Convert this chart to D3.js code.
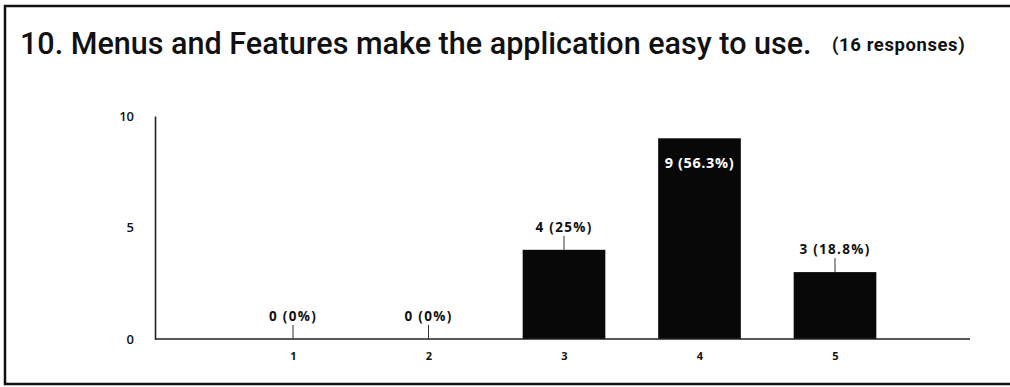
<!DOCTYPE html>
<html>
<head>
<meta charset="utf-8">
<script src="https://cdn.jsdelivr.net/npm/d3@7"></script>
<style>
  html, body { margin: 0; padding: 0; background: #fff; }
  svg { display: block; }
</style>
</head>
<body>
<svg id="chart" width="1010" height="387"></svg>
<script>
// Responses per rating (1 = lowest, 5 = highest)
const categories = ["1", "2", "3", "4", "5"];
const counts = [0, 0, 4, 9, 3];
const percents = ["0%", "0%", "25%", "56.3%", "18.8%"];
const yTicks = [0, 5, 10];
const totalResponses = 16;

const svg = d3.select("#chart");

// Card frame: left, top and bottom edges
svg.append("path")
  .attr("d", `M1010,6 H5 V384 H1010`)
  .attr("fill", "none")
  .attr("stroke", "#111")
  .attr("stroke-width", 2.5);

// Fit a text element to a given width by adjusting its font size
function fitWidth(sel, size, width) {
  const w = sel.node().getComputedTextLength();
  sel.attr("font-size", size * width / w);
}

// Title
const title = svg.append("text")
  .attr("x", 20).attr("y", 54)
  .attr("font-family", "Roboto, 'Liberation Sans', sans-serif")
  .attr("font-weight", 500)
  .attr("font-size", 23)
  .attr("fill", "#111")
  .text("10. Menus and Features make the application easy to use.");
fitWidth(title, 23, 792);

const sub = svg.append("text")
  .attr("x", 832).attr("y", 51)
  .attr("font-family", "Roboto, 'Liberation Sans', sans-serif")
  .attr("font-weight", 700)
  .attr("font-size", 14)
  .attr("letter-spacing", 0.6)
  .attr("fill", "#111")
  .text(`(${totalResponses} responses)`);
fitWidth(sub, 14, 136);

// Scales
const x = d3.scalePoint().domain(categories).range([293, 835]);
const barW = x.step() * 0.61;
const y = d3.scaleLinear().domain([0, 10]).range([339, 116]);
const axisLeft = 155, axisRight = 970;

const font = "'Open Sans', 'DejaVu Sans', sans-serif";

// Bars
const data = categories.map((c, i) => ({ c, v: counts[i], p: percents[i] }));
svg.append("g").selectAll("rect")
  .data(data.filter(d => d.v > 0))
  .join("rect")
  .attr("x", d => x(d.c) - barW / 2)
  .attr("y", d => y(d.v))
  .attr("width", barW)
  .attr("height", d => y(0) - y(d.v))
  .attr("fill", "#080808");

// Y axis
const yAxis = d3.axisLeft(y).tickValues(yTicks).tickSize(0).tickPadding(21);
const gy = svg.append("g").attr("transform", `translate(${axisLeft},0)`).call(yAxis);
gy.select(".domain").attr("stroke", "#222").attr("stroke-width", 1.6);
gy.selectAll("text")
  .attr("font-family", font).attr("font-size", 13).attr("font-weight", 600).attr("fill", "#111");

// X axis
const xAxis = d3.axisBottom(x).tickSize(0).tickPadding(13);
const gx = svg.append("g").attr("transform", `translate(0,${y(0)})`).call(xAxis);
gx.select(".domain").attr("d", `M${axisLeft},0H${axisRight}`)
  .attr("stroke", "#222").attr("stroke-width", 1.6);
gx.selectAll("text")
  .attr("font-family", font).attr("font-size", 11).attr("font-weight", 700).attr("fill", "#111");

// Value labels: outside with a leader line, or inside the tallest bar
const maxV = d3.max(counts);
const labels = svg.append("g");
data.forEach(d => {
  const txt = `${d.v} (${d.p})`;
  if (d.v === maxV) {
    labels.append("text")
      .attr("x", x(d.c)).attr("y", y(d.v) + 30)
      .attr("text-anchor", "middle")
      .attr("font-family", font).attr("font-size", 14.5).attr("font-weight", 700)
      .attr("letter-spacing", 0.6)
      .attr("fill", "#fff")
      .attr("stroke", "#000").attr("stroke-width", 0.9)
      .attr("paint-order", "stroke")
      .text(txt);
  } else {
    const top = y(d.v);
    labels.append("line")
      .attr("x1", x(d.c)).attr("x2", x(d.c))
      .attr("y1", top).attr("y2", top - 14)
      .attr("stroke", "#333").attr("stroke-width", 1);
    labels.append("text")
      .attr("x", x(d.c)).attr("y", top - 18)
      .attr("text-anchor", "middle")
      .attr("font-family", font).attr("font-size", 13.5).attr("font-weight", 700)
      .attr("letter-spacing", 1.3)
      .attr("fill", "#111")
      .text(txt);
  }
});
</script>
</body>
</html>
